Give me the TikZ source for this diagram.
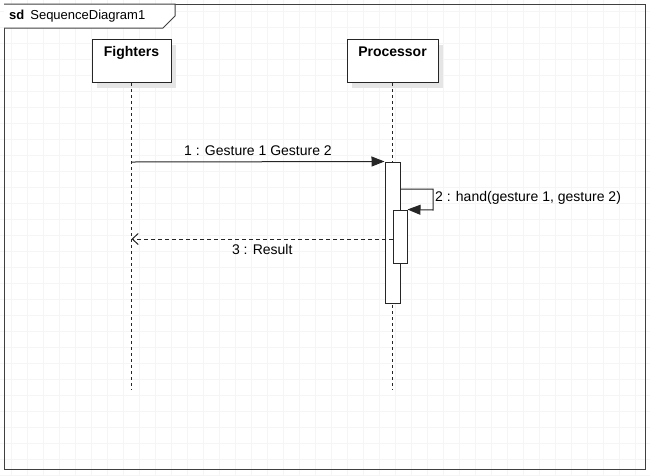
\documentclass[tikz,border=0pt]{standalone}
\usepackage{fontspec}
\setmainfont{Liberation Sans}
\usetikzlibrary{arrows.meta,shadows}
\begin{document}
\begin{tikzpicture}[x=1pt,y=-1pt,
  every node/.style={font=\fontsize{14}{16}\selectfont},
  gridline/.style={draw=black!4,line width=0.7pt},
  framebox/.style={draw=black!75,line width=1.3pt,inner sep=0pt,minimum width=641pt,minimum height=465pt,anchor=north west},
  headbox/.style={draw=black!75,line width=1pt,fill=white},
  lifebox/.style={draw=black!85,line width=1pt,fill=white,minimum width=79pt,inner xsep=0pt,inner ysep=7pt,text height=10pt,text depth=19pt,anchor=north,font=\fontsize{14}{16}\selectfont\bfseries,
    drop shadow={shadow xshift=5pt,shadow yshift=-5pt,fill=black!10,opacity=1}},
  lifeline/.style={draw=black!85,line width=1pt,dash pattern=on 3pt off 3pt},
  actbar/.style={draw=black!85,line width=1pt,fill=white,inner sep=0pt},
  msg/.style={draw=black!85,line width=1pt,-{Triangle[length=13pt,width=10pt]}},
  retmsg/.style={draw=black!85,line width=1pt,dash pattern=on 4pt off 3pt,-{Straight Barb[length=6pt,width=11pt,line width=1pt]}},
  msglabel/.style={inner sep=1pt}
]
\useasboundingbox (0,0) rectangle (650,475);
\fill[white] (0,0) rectangle (650,475);
\foreach \k in {0,...,40} {\draw[gridline] (11.5+16*\k,0) -- (11.5+16*\k,475);}
\foreach \k in {0,...,29} {\draw[gridline] (0,11.5+16*\k) -- (650,11.5+16*\k);}
% frame
\node[framebox] (frame) at (4,4) {};
\draw[headbox] (frame.north west) -- (175,4) -- (175,16) -- (163,28) -- (4,28);
\node[anchor=west,inner sep=0pt,font=\fontsize{13}{16}\selectfont] (title) at (9,16) {\textbf{sd}\hspace{6pt}SequenceDiagram1};
% lifelines
\node[lifebox,minimum width=79pt] (fighters) at (131.5,39) {Fighters};
\node[lifebox,minimum width=91pt] (proc) at (392.5,39) {Processor};
\coordinate (fend) at (131.5,390);
\coordinate (pend) at (392.5,390);
\draw[lifeline] (fighters.south) -- (fend);
\draw[lifeline] (proc.south) -- (pend);
% activations
\node[actbar,minimum width=15pt,minimum height=141pt] (act1) at (392.5,232.5) {};
\node[actbar,minimum width=14pt,minimum height=53pt] (act2) at (400,236.5) {};
% message 1
\coordinate (m1s) at (131.5,162);
\draw[msg] (m1s) -- (act1.north west) node[midway,above=4.5pt,msglabel] (l1) {1 : Gesture 1 Gesture 2};
% message 2 (self)
\coordinate (m2a) at (400,189);
\coordinate (m2b) at (433,189);
\coordinate (m2c) at (433,210);
\draw[msg] (m2a) -- (m2b) -- (m2c) -- (act2.north east);
\node[anchor=west,msglabel] (l2) at (434,198) {2 : hand(gesture 1, gesture 2)};
% message 3 (return)
\coordinate (m3e) at (131.5,239);
\coordinate (m3s) at (393,239);
\draw[retmsg] (m3s) -- (m3e) node[midway,below=3.5pt,msglabel] (l3) {3 : Result};
\end{tikzpicture}
\end{document}
